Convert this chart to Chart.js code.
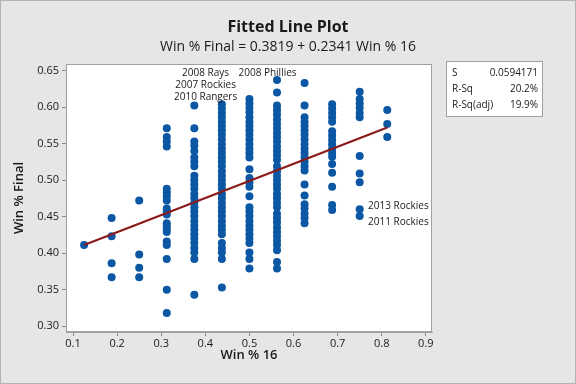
<!DOCTYPE html>
<html><head><meta charset="utf-8">
<script src="https://cdn.jsdelivr.net/npm/chart.js@4/dist/chart.umd.min.js"></script>
<style>html,body{margin:0;padding:0;background:#e6e6e6}canvas{display:block}</style>
</head><body>
<canvas id="c" width="576" height="384"></canvas>
<script>
// ---- data ----
const xTicks = [0.1, 0.2, 0.3, 0.4, 0.5, 0.6, 0.7, 0.8, 0.9];
const yTicks = [0.30, 0.35, 0.40, 0.45, 0.50, 0.55, 0.60, 0.65];
const win16Levels = [0.125, 0.1875, 0.25, 0.3125, 0.375, 0.4375, 0.5, 0.5625, 0.625, 0.6875, 0.75, 0.8125];
const final_0125 = [0.411];
const final_01875 = [0.448, 0.423, 0.386, 0.367];
const final_025 = [0.472, 0.398, 0.380, 0.367];
const final_03125 = [0.571, 0.559, 0.553, 0.546, 0.488, 0.483, 0.478, 0.472, 0.461, 0.457, 0.453, 0.441, 0.437, 0.433, 0.429, 0.416, 0.411, 0.392, 0.350, 0.318];
const final_0375 = [0.602, 0.571, 0.553, 0.547, 0.540, 0.531, 0.525, 0.519, 0.506, 0.500, 0.494, 0.488, 0.481, 0.475, 0.469, 0.463, 0.457, 0.451, 0.444, 0.438, 0.432, 0.426, 0.420, 0.414, 0.407, 0.401, 0.392, 0.343];
const final_04375 = [0.604, 0.598, 0.592, 0.586, 0.580, 0.574, 0.568, 0.562, 0.556, 0.549, 0.543, 0.537, 0.531, 0.525, 0.519, 0.512, 0.506, 0.500, 0.494, 0.488, 0.481, 0.475, 0.469, 0.463, 0.457, 0.451, 0.444, 0.438, 0.432, 0.426, 0.414, 0.407, 0.401, 0.392, 0.353];
const final_05 = [0.611, 0.605, 0.599, 0.593, 0.586, 0.580, 0.574, 0.568, 0.562, 0.556, 0.549, 0.543, 0.537, 0.531, 0.515, 0.503, 0.497, 0.491, 0.478, 0.463, 0.457, 0.451, 0.444, 0.438, 0.432, 0.426, 0.420, 0.414, 0.401, 0.392, 0.379];
const final_05625 = [0.637, 0.620, 0.602, 0.596, 0.590, 0.583, 0.577, 0.571, 0.565, 0.559, 0.553, 0.546, 0.540, 0.534, 0.528, 0.519, 0.512, 0.506, 0.500, 0.494, 0.488, 0.481, 0.475, 0.469, 0.463, 0.454, 0.448, 0.442, 0.435, 0.429, 0.423, 0.417, 0.411, 0.404, 0.388, 0.379];
const final_0625 = [0.633, 0.602, 0.586, 0.580, 0.574, 0.568, 0.562, 0.556, 0.549, 0.543, 0.537, 0.531, 0.525, 0.519, 0.513, 0.494, 0.479, 0.467, 0.461, 0.454, 0.448, 0.441];
const final_06875 = [0.604, 0.598, 0.592, 0.586, 0.580, 0.567, 0.561, 0.555, 0.549, 0.543, 0.537, 0.532, 0.522, 0.510, 0.491, 0.466, 0.459];
const final_075 = [0.621, 0.611, 0.605, 0.599, 0.592, 0.586, 0.533, 0.509, 0.497, 0.460, 0.451];
const final_08125 = [0.596, 0.577, 0.559];
const fitX = [0.125, 0.8125];
const fitY = [0.4112, 0.5721];
const pointLabels = ["2008 Rays", "2008 Phillies", "2007 Rockies", "2010 Rangers", "2013 Rockies", "2011 Rockies"];
const pointLabelX = [0.4006, 0.541, 0.4006, 0.4006, 0.769, 0.769];
const pointLabelY = [0.6466, 0.6466, 0.630, 0.614, 0.4646, 0.443];
const statNames = ["S", "R-Sq", "R-Sq(adj)"];
const statValues = ["0.0594171", "20.2%", "19.9%"];

const columns = [final_0125, final_01875, final_025, final_03125, final_0375, final_04375, final_05, final_05625, final_0625, final_06875, final_075, final_08125];
const scatterPts = [];
columns.forEach((col, i) => col.forEach(v => scatterPts.push({x: win16Levels[i], y: v})));
const fitPts = fitX.map((x, i) => ({x, y: fitY[i]}));

const FONT = "'Open Sans', 'Noto Sans', sans-serif";
const TXT = '#1a1a1a';

const deco = {
  id: 'deco',
  beforeDraw(chart) {
    const {ctx, chartArea: a} = chart;
    ctx.save();
    ctx.fillStyle = '#e6e6e6';
    ctx.fillRect(0, 0, chart.width, chart.height);
    ctx.fillStyle = '#ffffff';
    ctx.fillRect(a.left, a.top, a.right - a.left, a.bottom - a.top);
    ctx.restore();
  },
  afterDraw(chart) {
    const {ctx, chartArea: a, scales} = chart;
    ctx.save();
    ctx.strokeStyle = '#a0a0a0';
    ctx.lineWidth = 1;
    ctx.strokeRect(a.left + 0.5, a.top + 0.5, a.right - a.left - 1, a.bottom - a.top - 1);
    ctx.strokeStyle = '#b4b4b4';
    ctx.strokeRect(0.5, 0.5, chart.width - 1, chart.height - 1);
    ctx.fillStyle = TXT;
    ctx.textAlign = 'center';
    ctx.textBaseline = 'middle';
    ctx.font = "bold 16px " + FONT;
    ctx.fillText("Fitted Line Plot", 288, 27);
    ctx.font = "14px " + FONT;
    ctx.fillText("Win % Final = 0.3819 + 0.2341 Win % 16", 288, 47);
    ctx.font = "600 13px " + FONT;
    ctx.fillText("Win % 16", (a.left + a.right) / 2, 355);
    ctx.save();
    ctx.translate(19, (a.top + a.bottom) / 2);
    ctx.rotate(-Math.PI / 2);
    ctx.fillText("Win % Final", 0, 0);
    ctx.restore();
    ctx.font = "10px " + FONT;
    pointLabels.forEach((t, i) => {
      const px = scales.x.getPixelForValue(pointLabelX[i]);
      const py = scales.y.getPixelForValue(pointLabelY[i]);
      ctx.textAlign = i >= 4 ? 'left' : 'center';
      ctx.fillText(t, px, py);
    });
    ctx.fillStyle = '#ffffff';
    ctx.fillRect(446, 61, 96, 55);
    ctx.strokeStyle = '#a0a0a0';
    ctx.strokeRect(446.5, 61.5, 96, 55);
    ctx.fillStyle = TXT;
    ctx.font = "10px " + FONT;
    statNames.forEach((t, i) => {
      ctx.textAlign = 'left';
      ctx.fillText(t, 452, 73 + i * 16);
      ctx.textAlign = 'right';
      ctx.fillText(statValues[i], 538, 73 + i * 16);
    });
    ctx.restore();
  }
};

new Chart(document.getElementById('c'), {
  type: 'scatter',
  data: {
    datasets: [
      {type: 'line', data: fitPts, borderColor: '#8b1a1a', borderWidth: 2.2, pointRadius: 0, fill: false},
      {data: scatterPts, backgroundColor: '#0b57a4', borderWidth: 0, pointRadius: 4, pointHoverRadius: 4}
    ]
  },
  options: {
    responsive: false,
    animation: false,
    devicePixelRatio: 1,
    layout: {padding: {left: 0, right: 144, top: 64, bottom: 0}},
    plugins: {legend: {display: false}, tooltip: {enabled: false}, title: {display: false}},
    scales: {
      x: {
        type: 'linear', min: 0.084, max: 0.914,
        afterBuildTicks: s => { s.ticks = xTicks.map(v => ({value: v})); },
        afterFit: s => { s.height = 52; },
        ticks: {callback: v => v.toFixed(1), font: {size: 11, family: FONT}, color: TXT, padding: 1, maxRotation: 0, autoSkip: false},
        grid: {drawOnChartArea: false, drawTicks: true, tickLength: 4, color: '#8a8a8a'},
        border: {display: true, color: '#a0a0a0'}
      },
      y: {
        type: 'linear', min: 0.292, max: 0.659,
        afterBuildTicks: s => { s.ticks = yTicks.map(v => ({value: v})); },
        afterFit: s => { s.width = 66; },
        ticks: {callback: v => v.toFixed(2), font: {size: 11, family: FONT}, color: TXT, padding: 3, autoSkip: false},
        grid: {drawOnChartArea: false, drawTicks: true, tickLength: 4, color: '#8a8a8a'},
        border: {display: true, color: '#a0a0a0'}
      }
    }
  },
  plugins: [deco]
});
</script>
</body></html>
